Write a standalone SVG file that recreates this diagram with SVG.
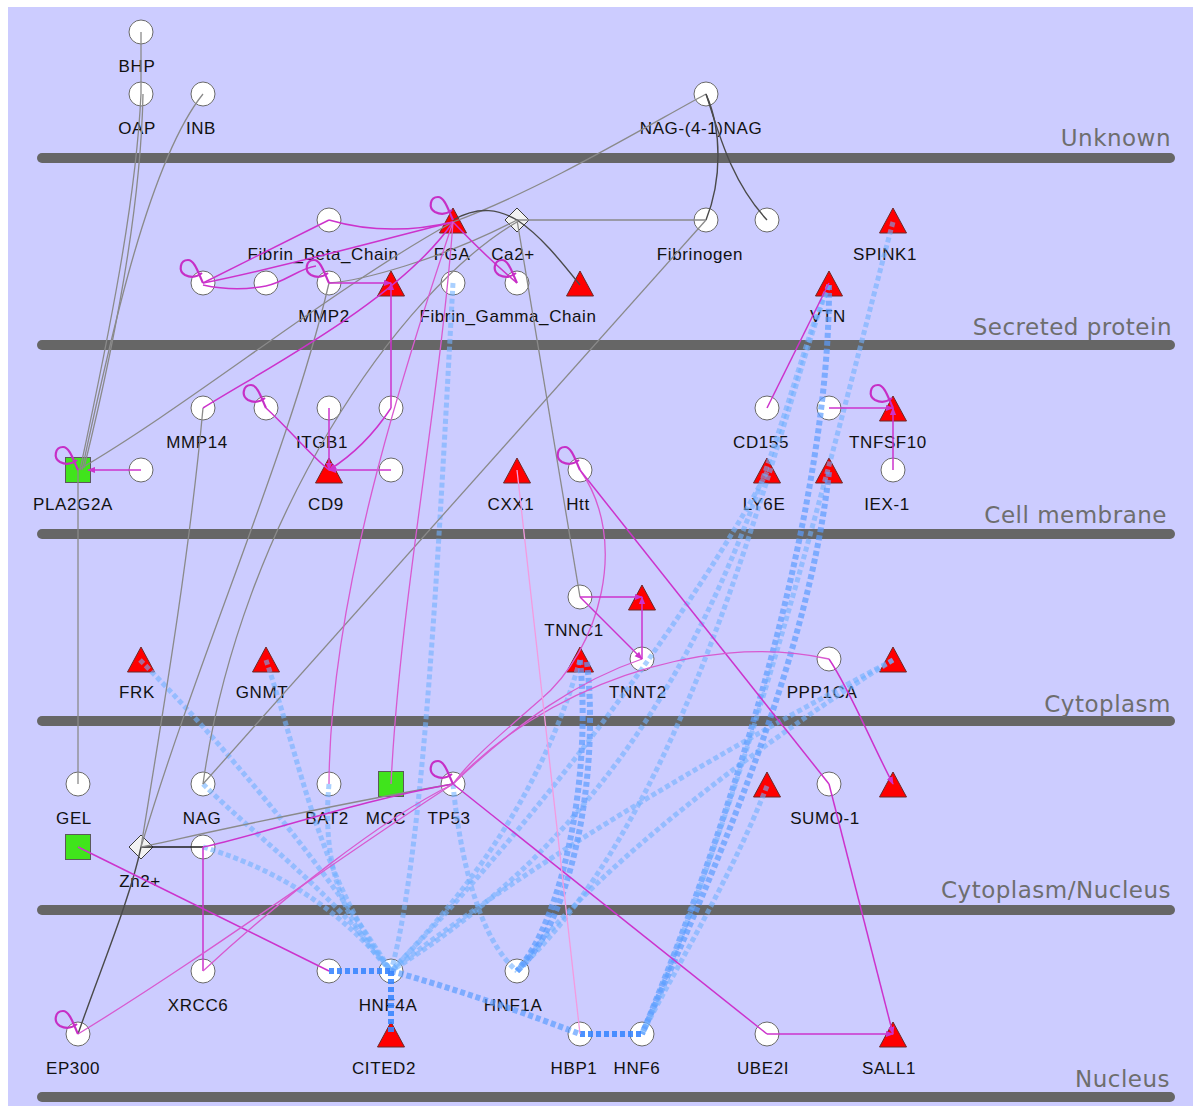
<svg xmlns="http://www.w3.org/2000/svg" width="1193" height="1106" viewBox="0 0 1193 1106">
<defs>
<style>
.lane{stroke:#666;stroke-width:10;stroke-linecap:round}
.lt{font-family:"DejaVu Sans",sans-serif;font-size:23px;fill:#6e6e6e;text-anchor:end;letter-spacing:0.5px}
.node circle{fill:#fff;stroke:#6a6a6a;stroke-width:1}
.node text{font-family:"Liberation Sans",Arial,sans-serif;font-size:17px;fill:#111;text-anchor:middle;letter-spacing:0.6px}
.tri{fill:#f00;stroke:#6b2a2a;stroke-width:1}
.sq{fill:#40e41c;stroke:#5a5a5a;stroke-width:1}
.dia{fill:#f2f2f2;stroke:#3c3c3c;stroke-width:1}
.b{fill:none;stroke:#6fb0ff;stroke-width:5;stroke-dasharray:5 3;opacity:.6}
.bm{fill:none;stroke:#5b9dff;stroke-width:6;stroke-dasharray:5 3;opacity:.7}
.bd{fill:none;stroke:#3a86ff;stroke-width:6;stroke-dasharray:5 3;opacity:.9}
.g{fill:none;stroke:#8a8a8a;stroke-width:1.3}
.gd{fill:none;stroke:#4a4a4a;stroke-width:1.4}
.gk{fill:none;stroke:#1e1e1e;stroke-width:1.5}
.m{fill:none;stroke:#cc33cc;stroke-width:1.5}
.mp{fill:none;stroke:#d85ad0;stroke-width:1.3}
.ml{fill:none;stroke:#f39be0;stroke-width:1.3}
.loop{fill:none;stroke:#c62fc6;stroke-width:2.2}
</style>
<path id="tri" class="tri" d="M0,-12 L13.5,13 L-13.5,13 Z"/>
<rect id="sq" class="sq" x="-12.5" y="-12.5" width="25" height="25"/>
<path id="dia" class="dia" d="M0,-12 L12,0 L0,12 L-12,0 Z"/>
<path id="selfloop" class="loop" d="M0,0 C-4,-8 -8,-23 -15,-23 C-23,-23 -25,-12 -18,-8 C-12,-5 -6,-6 -1,-10"/>
<marker id="ah" viewBox="0 0 10 10" refX="9" refY="5" markerWidth="8" markerHeight="8" markerUnits="userSpaceOnUse" orient="auto">
<path d="M0,1 L10,5 L0,9 Z" fill="#cc33cc"/>
</marker>
</defs>

<!-- canvas -->
<rect x="0" y="0" width="1193" height="1106" fill="#fff"/>
<rect x="8" y="7" width="1185" height="1099" fill="#ccccff"/>

<!-- compartment bars -->
<g id="lanes">
<line class="lane" x1="42" y1="158" x2="1170" y2="158"/>
<line class="lane" x1="42" y1="345" x2="1170" y2="345"/>
<line class="lane" x1="42" y1="534" x2="1170" y2="534"/>
<line class="lane" x1="42" y1="721" x2="1170" y2="721"/>
<line class="lane" x1="42" y1="910" x2="1170" y2="910"/>
<line class="lane" x1="42" y1="1097" x2="1170" y2="1097"/>
<text class="lt" x="1171" y="146">Unknown</text>
<text class="lt" x="1172" y="335">Secreted protein</text>
<text class="lt" x="1167" y="523">Cell membrane</text>
<text class="lt" x="1171" y="712">Cytoplasm</text>
<text class="lt" x="1171" y="898">Cytoplasm/Nucleus</text>
<text class="lt" x="1170" y="1087">Nucleus</text>
</g>

<!-- Unknown -->
<g id="n-BHP" class="node"><circle cx="141" cy="32" r="12"/><text x="137" y="72">BHP</text></g>
<g id="n-OAP" class="node"><circle cx="141" cy="94" r="12"/><text x="137" y="134">OAP</text></g>
<g id="n-INB" class="node"><circle cx="203" cy="94" r="12"/><text x="201" y="134">INB</text></g>
<g id="n-NAG41NAG" class="node"><circle cx="706" cy="94" r="12"/><text x="701" y="134">NAG-(4-1)NAG</text></g>

<!-- Secreted protein -->
<g id="n-FibrinBeta" class="node"><circle cx="329" cy="220" r="12"/><text x="323" y="260">Fibrin_Beta_Chain</text></g>
<g id="n-FGA" class="node"><use href="#tri" transform="translate(453,220)"/><text x="452" y="260">FGA</text></g>
<g id="n-Ca2" class="node"><use href="#dia" transform="translate(517,220)"/><text x="513" y="260">Ca2+</text></g>
<g id="n-Fibrinogen" class="node"><circle cx="706" cy="220" r="12"/><text x="700" y="260">Fibrinogen</text></g>
<g id="n-c767-220" class="node"><circle cx="767" cy="220" r="12"/></g>
<g id="n-SPINK1" class="node"><use href="#tri" transform="translate(893,220)"/><text x="885" y="260">SPINK1</text></g>
<g id="n-c203-283" class="node"><circle cx="203" cy="283" r="12"/></g>
<g id="n-c266-283" class="node"><circle cx="266" cy="283" r="12"/></g>
<g id="n-MMP2" class="node"><circle cx="329" cy="283" r="12"/><text x="324" y="322">MMP2</text></g>
<g id="n-t391-283" class="node"><use href="#tri" transform="translate(391,283)"/></g>
<g id="n-FibrinGamma" class="node"><circle cx="453" cy="283" r="12"/><text x="508" y="322">Fibrin_Gamma_Chain</text></g>
<g id="n-c517-283" class="node"><circle cx="517" cy="283" r="12"/></g>
<g id="n-t580-283" class="node"><use href="#tri" transform="translate(580,283)"/></g>
<g id="n-VTN" class="node"><use href="#tri" transform="translate(829,283)"/><text x="828" y="322">VTN</text></g>

<!-- Cell membrane -->
<g id="n-MMP14" class="node"><circle cx="203" cy="408" r="12"/><text x="197" y="448">MMP14</text></g>
<g id="n-c266-408" class="node"><circle cx="266" cy="408" r="12"/></g>
<g id="n-ITGB1" class="node"><circle cx="329" cy="408" r="12"/><text x="322" y="448">ITGB1</text></g>
<g id="n-c391-408" class="node"><circle cx="391" cy="408" r="12"/></g>
<g id="n-CD155" class="node"><circle cx="767" cy="408" r="12"/><text x="761" y="448">CD155</text></g>
<g id="n-c829-408" class="node"><circle cx="829" cy="408" r="12"/></g>
<g id="n-TNFSF10" class="node"><use href="#tri" transform="translate(893,408)"/><text x="888" y="448">TNFSF10</text></g>
<g id="n-PLA2G2A" class="node"><use href="#sq" transform="translate(78,470)"/><text x="73" y="510">PLA2G2A</text></g>
<g id="n-c141-470" class="node"><circle cx="141" cy="470" r="12"/></g>
<g id="n-CD9" class="node"><use href="#tri" transform="translate(329,470)"/><text x="326" y="510">CD9</text></g>
<g id="n-c391-470" class="node"><circle cx="391" cy="470" r="12"/></g>
<g id="n-CXX1" class="node"><use href="#tri" transform="translate(517,470)"/><text x="511" y="510">CXX1</text></g>
<g id="n-Htt" class="node"><circle cx="580" cy="470" r="12"/><text x="578" y="510">Htt</text></g>
<g id="n-LY6E" class="node"><use href="#tri" transform="translate(767,470)"/><text x="764" y="510">LY6E</text></g>
<g id="n-t829-470" class="node"><use href="#tri" transform="translate(829,470)"/></g>
<g id="n-IEX1" class="node"><circle cx="893" cy="470" r="12"/><text x="887" y="510">IEX-1</text></g>

<!-- Cytoplasm -->
<g id="n-TNNC1" class="node"><circle cx="580" cy="597" r="12"/><text x="574" y="636">TNNC1</text></g>
<g id="n-t642-597" class="node"><use href="#tri" transform="translate(642,597)"/></g>
<g id="n-FRK" class="node"><use href="#tri" transform="translate(141,659)"/><text x="137" y="698">FRK</text></g>
<g id="n-GNMT" class="node"><use href="#tri" transform="translate(266,659)"/><text x="262" y="698">GNMT</text></g>
<g id="n-t580-659" class="node"><use href="#tri" transform="translate(580,659)"/></g>
<g id="n-TNNT2" class="node"><circle cx="642" cy="659" r="12"/><text x="638" y="698">TNNT2</text></g>
<g id="n-PPP1CA" class="node"><circle cx="829" cy="659" r="12"/><text x="822" y="698">PPP1CA</text></g>
<g id="n-t893-659" class="node"><use href="#tri" transform="translate(893,659)"/></g>

<!-- Cytoplasm/Nucleus -->
<g id="n-GEL" class="node"><circle cx="78" cy="784" r="12"/><text x="74" y="824">GEL</text></g>
<g id="n-NAG" class="node"><circle cx="203" cy="784" r="12"/><text x="202" y="824">NAG</text></g>
<g id="n-BAT2" class="node"><circle cx="329" cy="784" r="12"/><text x="327" y="824">BAT2</text></g>
<g id="n-MCC" class="node"><use href="#sq" transform="translate(391,784)"/><text x="386" y="824">MCC</text></g>
<g id="n-TP53" class="node"><circle cx="453" cy="784" r="12"/><text x="449" y="824">TP53</text></g>
<g id="n-t767-784" class="node"><use href="#tri" transform="translate(767,784)"/></g>
<g id="n-SUMO1" class="node"><circle cx="829" cy="784" r="12"/><text x="825" y="824">SUMO-1</text></g>
<g id="n-t893-784" class="node"><use href="#tri" transform="translate(893,784)"/></g>
<g id="n-s78-847" class="node"><use href="#sq" transform="translate(78,847)"/></g>
<g id="n-Zn2" class="node"><use href="#dia" transform="translate(141,847)"/><text x="140" y="887">Zn2+</text></g>
<g id="n-c203-847" class="node"><circle cx="203" cy="847" r="12"/></g>

<!-- Nucleus -->
<g id="n-XRCC6" class="node"><circle cx="203" cy="971" r="12"/><text x="198" y="1011">XRCC6</text></g>
<g id="n-c329-971" class="node"><circle cx="329" cy="971" r="12"/></g>
<g id="n-HNF4A" class="node"><circle cx="391" cy="971" r="12"/><text x="388" y="1011">HNF4A</text></g>
<g id="n-HNF1A" class="node"><circle cx="517" cy="971" r="12"/><text x="513" y="1011">HNF1A</text></g>
<g id="n-EP300" class="node"><circle cx="78" cy="1034" r="12"/><text x="73" y="1074">EP300</text></g>
<g id="n-CITED2" class="node"><use href="#tri" transform="translate(391,1034)"/><text x="384" y="1074">CITED2</text></g>
<g id="n-HBP1" class="node"><circle cx="580" cy="1034" r="12"/><text x="574" y="1074">HBP1</text></g>
<g id="n-HNF6" class="node"><circle cx="642" cy="1034" r="12"/><text x="637" y="1074">HNF6</text></g>
<g id="n-UBE2I" class="node"><circle cx="767" cy="1034" r="12"/><text x="763" y="1074">UBE2I</text></g>
<g id="n-SALL1" class="node"><use href="#tri" transform="translate(893,1034)"/><text x="889" y="1074">SALL1</text></g>

<!-- connectors -->
<g id="edges">
<!-- expression links (dashed blue) -->
<path class="b" d="M140,660 C220,740 320,860 391,971"/>
<path class="b" d="M266,660 C300,760 320,880 391,971"/>
<path class="b" d="M203,784 C260,840 330,890 391,971"/>
<path class="b" d="M203,847 C280,870 340,910 391,971"/>
<path class="b" d="M329,784 C322,860 340,920 391,971"/>
<path class="b" d="M453,283 C440,520 425,850 391,971"/>
<path class="b" d="M453,784 C460,860 480,940 517,971"/>
<path class="b" d="M580,660 C540,800 460,900 391,971"/>
<path class="b" d="M767,472 C700,600 540,820 391,971"/>
<path class="b" d="M893,660 C780,720 560,840 391,971"/>
<path class="b" d="M893,660 C780,730 600,860 517,971"/>
<path class="b" d="M829,285 C775,400 730,760 391,971"/>
<path class="b" d="M829,285 C780,410 700,800 517,971"/>
<path class="bm" d="M829,285 C830,500 740,800 642,1034"/>
<path class="b" d="M893,222 C840,420 760,760 642,1034"/>
<path class="bm" d="M829,472 C810,650 720,860 642,1034"/>
<path class="b" d="M767,786 C730,880 680,960 642,1034"/>
<path class="bm" d="M580,660 C592,780 562,920 517,971"/>
<path class="bm" d="M587,662 C600,780 570,925 517,971"/>
<path class="bm" d="M391,971 C460,990 530,1015 580,1034"/>
<path class="bd" d="M329,971 L391,971"/>
<path class="bd" d="M391,971 L391,1034"/>
<path class="bd" d="M580,1034 L642,1034"/>

<!-- grey links -->
<path class="g" d="M141,32 L141,94"/>
<path class="g" d="M141,94 C136,200 110,330 80,470"/>
<path class="g" d="M143,94 C141,200 118,330 84,468"/>
<path class="g" d="M203,94 C150,160 112,330 82,470"/>
<path class="g" d="M78,470 L78,784"/>
<path class="g" d="M78,470 C190,405 330,290 453,222"/>
<path class="g" d="M706,94 C640,130 540,190 453,222"/>
<path class="gd" d="M706,94 C722,130 722,180 706,220"/>
<path class="gd" d="M706,94 C718,130 730,180 767,220"/>
<path class="g" d="M517,220 L706,220"/>
<path class="gd" d="M453,220 C480,205 500,210 517,220 C540,235 560,260 580,285"/>
<path class="g" d="M517,220 L580,597"/>
<path class="g" d="M706,220 L203,784"/>
<path class="g" d="M517,222 C400,290 240,520 203,784"/>
<path class="g" d="M329,283 C360,281 440,260 517,220"/>
<path class="g" d="M329,283 C290,450 200,650 141,847"/>
<path class="g" d="M203,408 C190,550 165,700 141,847"/>
<path class="gd" d="M141,847 C130,900 100,970 78,1034"/>
<path class="gk" d="M141,847 L203,847"/>
<path class="g" d="M141,847 C220,830 330,805 453,784"/>

<!-- interaction links (magenta) -->
<path class="m" d="M329,220 C370,232 410,232 453,222"/>
<path class="m" d="M329,220 L203,283"/>
<path class="m" d="M203,283 C280,268 380,240 453,222"/>
<path class="m" d="M203,285 Q235,292 266,286"/>
<path class="m" d="M266,286 C285,282 300,268 316,266"/>
<path class="m" d="M329,283 L391,283" marker-end="url(#ah)"/>
<path class="m" d="M391,408 L391,283" marker-end="url(#ah)"/>
<path class="m" d="M391,408 C370,440 345,460 329,470" marker-end="url(#ah)"/>
<path class="m" d="M391,470 L329,470" marker-end="url(#ah)"/>
<path class="m" d="M329,408 L329,470" marker-end="url(#ah)"/>
<path class="m" d="M266,408 C290,430 310,455 329,470"/>
<path class="m" d="M203,408 C260,372 400,300 453,222"/>
<path class="m" d="M141,470 L88,470" marker-end="url(#ah)"/>
<path class="m" d="M453,222 C470,240 490,260 517,283"/>
<path class="mp" d="M453,222 C400,380 330,600 329,784"/>
<path class="mp" d="M453,222 C440,400 400,600 391,784"/>
<path class="mp" d="M580,470 C630,540 600,650 540,700 C500,735 470,760 453,784"/>
<path class="m" d="M580,470 L829,784"/>
<path class="m" d="M829,784 L893,1034" marker-end="url(#ah)"/>
<path class="m" d="M767,1034 L893,1034" marker-end="url(#ah)"/>
<path class="m" d="M453,784 L767,1034"/>
<path class="mp" d="M453,784 C540,690 700,630 829,659"/>
<path class="m" d="M829,659 C850,690 870,740 893,784" marker-end="url(#ah)"/>
<path class="mp" d="M453,784 C520,720 580,680 642,659"/>
<path class="m" d="M580,597 L642,597" marker-end="url(#ah)"/>
<path class="m" d="M642,659 L642,597" marker-end="url(#ah)"/>
<path class="m" d="M580,597 L642,659" marker-end="url(#ah)"/>
<path class="m" d="M767,408 L829,283"/>
<path class="m" d="M829,408 L893,408" marker-end="url(#ah)"/>
<path class="m" d="M893,470 L893,408" marker-end="url(#ah)"/>
<path class="m" d="M203,847 L203,971"/>
<path class="m" d="M203,847 C260,835 360,800 453,784"/>
<path class="m" d="M78,847 L329,971"/>
<path class="mp" d="M203,971 C280,900 380,820 453,784"/>
<path class="mp" d="M78,1034 C200,960 350,850 453,784"/>
<path class="ml" d="M517,470 L580,1034"/>

<!-- self interactions -->
<use href="#selfloop" transform="translate(78,470)"/>
<use href="#selfloop" transform="translate(203,283)"/>
<use href="#selfloop" transform="translate(329,283)"/>
<use href="#selfloop" transform="translate(453,220)"/>
<use href="#selfloop" transform="translate(517,283)"/>
<use href="#selfloop" transform="translate(266,408)"/>
<use href="#selfloop" transform="translate(580,470)"/>
<use href="#selfloop" transform="translate(893,408)"/>
<use href="#selfloop" transform="translate(453,784)"/>
<use href="#selfloop" transform="translate(78,1034)"/>
</g>
</svg>
